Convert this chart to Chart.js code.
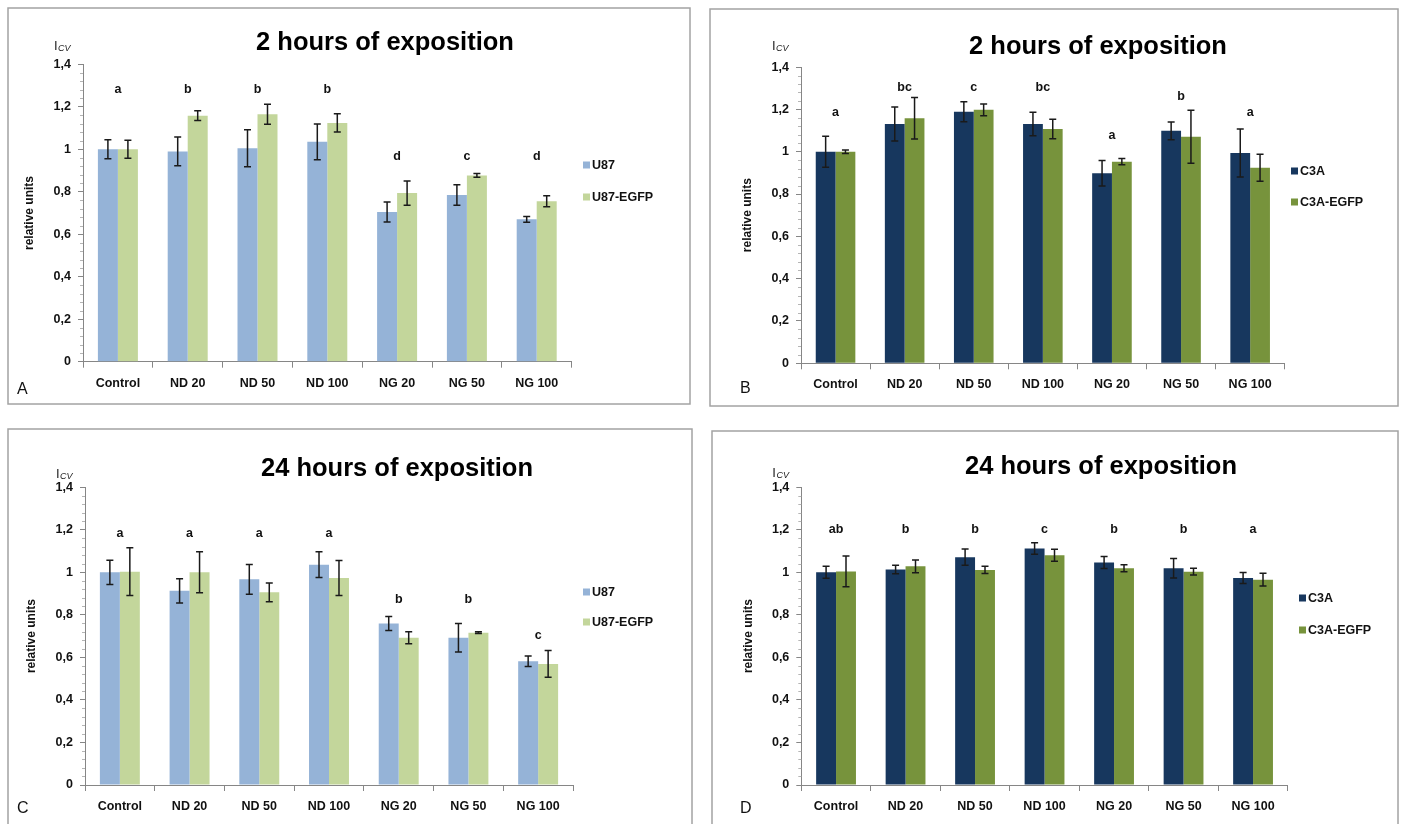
<!DOCTYPE html>
<html><head><meta charset="utf-8">
<script src="https://cdn.jsdelivr.net/npm/chart.js@4.4.1/dist/chart.umd.min.js"></script>
<style>
html,body{margin:0;padding:0;background:#fff;}
body{width:1406px;height:824px;overflow:hidden;position:relative;}
canvas{position:absolute;}
</style>
</head><body>
<canvas id="cA" width="703" height="418" style="left:0;top:0"></canvas>
<canvas id="cB" width="703" height="418" style="left:703px;top:0"></canvas>
<canvas id="cC" width="703" height="418" style="left:0;top:418px"></canvas>
<canvas id="cD" width="703" height="418" style="left:703px;top:418px"></canvas>
<script>
const categories = ['Control','ND 20','ND 50','ND 100','NG 20','NG 50','NG 100'];
const yMin = 0, yMax = 1.4, yStep = 0.2;

// Panel A – 2 h, U87
const titleA = '2 hours of exposition';
const seriesA = ['U87','U87-EGFP'];
const aU87 = [1.00, 0.99, 1.005, 1.035, 0.705, 0.785, 0.670];
const aU87Err = [0.045, 0.068, 0.087, 0.084, 0.047, 0.048, 0.013];
const aEGFP = [1.00, 1.158, 1.165, 1.124, 0.794, 0.877, 0.755];
const aEGFPErr = [0.042, 0.023, 0.047, 0.043, 0.057, 0.009, 0.026];
const aLetters = ['a','b','b','b','d','c','d'];
const aLetterAt = [1.279, 1.279, 1.279, 1.279, 0.964, 0.964, 0.964];

// Panel B – 2 h, C3A
const titleB = '2 hours of exposition';
const seriesB = ['C3A','C3A-EGFP'];
const bC3A = [1.00, 1.131, 1.189, 1.131, 0.898, 1.099, 0.994];
const bC3AErr = [0.073, 0.080, 0.047, 0.056, 0.060, 0.042, 0.113];
const bEGFP = [1.00, 1.158, 1.198, 1.107, 0.953, 1.071, 0.924];
const bEGFPErr = [0.008, 0.098, 0.028, 0.046, 0.015, 0.125, 0.064];
const bLetters = ['a','bc','c','bc','a','b','a'];
const bLetterAt = [1.184, 1.304, 1.304, 1.304, 1.078, 1.263, 1.186];

// Panel C – 24 h, U87
const titleC = '24 hours of exposition';
const seriesC = ['U87','U87-EGFP'];
const cU87 = [1.00, 0.913, 0.967, 1.036, 0.759, 0.692, 0.582];
const cU87Err = [0.057, 0.057, 0.070, 0.060, 0.033, 0.067, 0.025];
const cEGFP = [1.003, 1.00, 0.906, 0.973, 0.692, 0.716, 0.569];
const cEGFPErr = [0.112, 0.096, 0.044, 0.082, 0.028, 0.004, 0.063];
const cLetters = ['a','a','a','a','b','b','c'];
const cLetterAt = [1.184, 1.184, 1.184, 1.184, 0.873, 0.873, 0.702];

// Panel D – 24 h, C3A
const titleD = '24 hours of exposition';
const seriesD = ['C3A','C3A-EGFP'];
const dC3A = [1.00, 1.013, 1.071, 1.112, 1.046, 1.019, 0.973];
const dC3AErr = [0.028, 0.020, 0.038, 0.027, 0.028, 0.046, 0.026];
const dEGFP = [1.004, 1.028, 1.011, 1.080, 1.019, 1.003, 0.965];
const dEGFPErr = [0.072, 0.030, 0.017, 0.028, 0.016, 0.016, 0.030];
const dLetters = ['ab','b','b','c','b','b','a'];
const dLetterAt = [1.20, 1.20, 1.20, 1.20, 1.20, 1.20, 1.20];

const FONT = "'Liberation Sans', Arial, sans-serif";
const AXIS_COLOR = '#868686';

const decor = {
  id: 'decor',
  beforeDraw(chart, args, o) {
    const ctx = chart.ctx;
    ctx.save();
    ctx.strokeStyle = '#a3a3a3';
    ctx.lineWidth = 1.5;
    ctx.strokeRect(o.frame[0], o.frame[1], o.frame[2], o.frame[3]);
    ctx.restore();
  },
  afterDatasetsDraw(chart, args, o) {
    const ctx = chart.ctx, ys = chart.scales.y;
    ctx.save();
    ctx.strokeStyle = '#1a1a1a';
    ctx.lineWidth = 1.5;
    chart.data.datasets.forEach((ds, i) => {
      const meta = chart.getDatasetMeta(i);
      meta.data.forEach((el, j) => {
        const v = ds.data[j], e = ds.errors[j];
        const yt = ys.getPixelForValue(v + e), yb = ys.getPixelForValue(v - e);
        const x = el.x, c = 3.5;
        ctx.beginPath();
        ctx.moveTo(x, yt); ctx.lineTo(x, yb);
        ctx.moveTo(x - c, yt); ctx.lineTo(x + c, yt);
        ctx.moveTo(x - c, yb); ctx.lineTo(x + c, yb);
        ctx.stroke();
      });
    });
    const xs = chart.scales.x;
    ctx.fillStyle = '#111';
    ctx.font = 'bold 12.5px ' + FONT;
    ctx.textAlign = 'center';
    ctx.textBaseline = 'middle';
    o.letters.forEach((t, j) => {
      ctx.fillText(t, xs.getPixelForValue(j), ys.getPixelForValue(o.letterAt[j]));
    });
    ctx.restore();
  },
  afterDraw(chart, args, o) {
    const ctx = chart.ctx, ys = chart.scales.y, area = chart.chartArea;
    ctx.save();
    ctx.strokeStyle = '#b5b5b5';
    ctx.lineWidth = 1;
    for (let k = 0; k <= 35; k++) {
      if (k % 5 === 0) continue;
      const y = Math.round(ys.getPixelForValue(k * 0.04)) + 0.5;
      ctx.beginPath(); ctx.moveTo(area.left - 3, y); ctx.lineTo(area.left, y); ctx.stroke();
    }
    ctx.fillStyle = '#000';
    ctx.font = 'bold 25.5px ' + FONT;
    ctx.textAlign = 'center';
    ctx.textBaseline = 'alphabetic';
    ctx.fillText(o.title, o.titleX, o.titleY);
    const ix = area.left - 29;
    ctx.textAlign = 'left';
    ctx.font = '13px ' + FONT;
    ctx.fillStyle = '#222';
    ctx.fillText('I', ix, o.icvY);
    const iw = ctx.measureText('I').width;
    ctx.font = 'italic 9px ' + FONT;
    ctx.fillText('CV', ix + iw + 0.5, o.icvY + 1);
    ctx.save();
    ctx.translate(area.left - 53, (area.top + area.bottom) / 2);
    ctx.rotate(-Math.PI / 2);
    ctx.textAlign = 'center';
    ctx.textBaseline = 'middle';
    ctx.font = 'bold 12px ' + FONT;
    ctx.fillStyle = '#111';
    ctx.fillText('relative units', 0, 0);
    ctx.restore();
    ctx.textBaseline = 'middle';
    ctx.textAlign = 'left';
    ctx.font = 'bold 12.5px ' + FONT;
    chart.data.datasets.forEach((ds, i) => {
      const ly = o.legendY[i];
      ctx.fillStyle = ds.backgroundColor;
      ctx.fillRect(o.legendX, ly - 3.5, 7, 7);
      ctx.fillStyle = '#111';
      ctx.fillText(ds.label, o.legendX + 9, ly + 0.5);
    });
    ctx.font = '16px ' + FONT;
    ctx.fillStyle = '#111';
    ctx.textBaseline = 'alphabetic';
    ctx.fillText(o.panel, o.panelX, o.panelY);
    ctx.restore();
  }
};

function makeChart(id, p) {
  const W = 703, H = 418;
  const ctx = document.getElementById(id);
  return new Chart(ctx, {
    type: 'bar',
    data: {
      labels: categories,
      datasets: [
        { label: p.series[0], data: p.v1, errors: p.e1, backgroundColor: p.colors[0], borderWidth: 0,
          categoryPercentage: 0.573, barPercentage: 1.0 },
        { label: p.series[1], data: p.v2, errors: p.e2, backgroundColor: p.colors[1], borderWidth: 0,
          categoryPercentage: 0.573, barPercentage: 1.0 }
      ]
    },
    options: {
      responsive: false,
      animation: false,
      devicePixelRatio: 1,
      layout: { padding: { left: 0, top: p.area.top, right: W - p.area.right, bottom: 0 } },
      plugins: {
        legend: { display: false },
        title: { display: false },
        tooltip: { enabled: false },
        decor: {
          frame: p.frame, title: p.title, titleX: p.titleX, titleY: p.titleY,
          icvY: p.icvY, legendX: p.legendX, legendY: p.legendY,
          panel: p.panel, panelX: p.panelX, panelY: p.panelY,
          letters: p.letters, letterAt: p.letterAt
        }
      },
      scales: {
        x: {
          afterFit: (s) => { s.height = H - p.area.bottom; },
          grid: { display: true, offset: true, drawOnChartArea: false, drawTicks: true, tickLength: 6, color: AXIS_COLOR },
          border: { display: true, color: AXIS_COLOR, width: 1 },
          ticks: { color: '#111', font: { family: FONT, size: 12.5, weight: 'bold' }, padding: 8, maxRotation: 0, autoSkip: false }
        },
        y: {
          min: yMin, max: yMax,
          afterFit: (s) => { s.width = p.area.left; },
          grid: { display: true, drawOnChartArea: false, drawTicks: true, tickLength: 5, color: AXIS_COLOR },
          border: { display: true, color: AXIS_COLOR, width: 1 },
          ticks: {
            stepSize: yStep, padding: 7, color: '#111',
            font: { family: FONT, size: 12.5, weight: 'bold' },
            callback: (v) => (Math.round(v * 10) / 10).toString().replace('.', ',')
          }
        }
      }
    },
    plugins: [decor]
  });
}

const blueGreen = ['#95B3D7', '#C3D69B'];
const navyOlive = ['#17375E', '#77933C'];

makeChart('cA', {
  series: seriesA, v1: aU87, e1: aU87Err, v2: aEGFP, e2: aEGFPErr, colors: blueGreen,
  area: { left: 83, right: 571.6, top: 64.3, bottom: 361.7 },
  frame: [8, 8, 682, 396], title: titleA, titleX: 385, titleY: 50, icvY: 50,
  legendX: 583, legendY: [165, 197], panel: 'A', panelX: 17, panelY: 394,
  letters: aLetters, letterAt: aLetterAt
});
makeChart('cB', {
  series: seriesB, v1: bC3A, e1: bC3AErr, v2: bEGFP, e2: bEGFPErr, colors: navyOlive,
  area: { left: 98, right: 581.7, top: 67.1, bottom: 363.3 },
  frame: [7, 9, 688, 397], title: titleB, titleX: 395, titleY: 54, icvY: 50,
  legendX: 588, legendY: [171, 202], panel: 'B', panelX: 37, panelY: 393,
  letters: bLetters, letterAt: bLetterAt
});
makeChart('cC', {
  series: seriesC, v1: cU87, e1: cU87Err, v2: cEGFP, e2: cEGFPErr, colors: blueGreen,
  area: { left: 85, right: 573, top: 69.2, bottom: 367 },
  frame: [8, 11, 684, 420], title: titleC, titleX: 397, titleY: 58, icvY: 60,
  legendX: 583, legendY: [174, 204], panel: 'C', panelX: 17, panelY: 395,
  letters: cLetters, letterAt: cLetterAt
});
makeChart('cD', {
  series: seriesD, v1: dC3A, e1: dC3AErr, v2: dEGFP, e2: dEGFPErr, colors: navyOlive,
  area: { left: 98.3, right: 584.8, top: 69.2, bottom: 367 },
  frame: [9, 13, 686, 420], title: titleD, titleX: 398, titleY: 56, icvY: 59,
  legendX: 596, legendY: [180, 212], panel: 'D', panelX: 37, panelY: 395,
  letters: dLetters, letterAt: dLetterAt
});
</script>
</body></html>
